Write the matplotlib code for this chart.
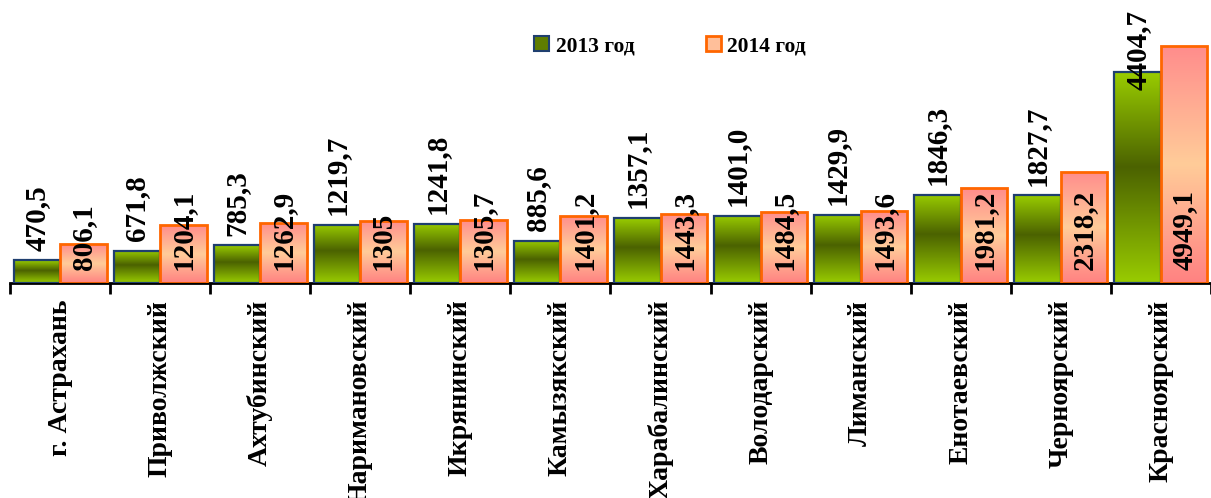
import numpy as np
import matplotlib.pyplot as plt
from matplotlib.colors import LinearSegmentedColormap
from matplotlib.patches import Patch

plt.rcParams['font.family'] = ['Liberation Serif', 'DejaVu Serif']
plt.rcParams['font.weight'] = 'bold'

districts = ["г. Астрахань", "Приволжский", "Ахтубинский", "Наримановский",
             "Икрянинский", "Камызякский", "Харабалинский", "Володарский",
             "Лиманский", "Енотаевский", "Черноярский", "Красноярский"]
values_2013 = [470.5, 671.8, 785.3, 1219.7, 1241.8, 885.6, 1357.1, 1401.0,
               1429.9, 1846.3, 1827.7, 4404.7]
values_2014 = [806.1, 1204.1, 1262.9, 1305, 1305.7, 1401.2, 1443.3, 1484.5,
               1493.6, 1981.2, 2318.2, 4949.1]
labels_2013 = ["470,5", "671,8", "785,3", "1219,7", "1241,8", "885,6", "1357,1",
               "1401,0", "1429,9", "1846,3", "1827,7", "4404,7"]
labels_2014 = ["806,1", "1204,1", "1262,9", "1305", "1305,7", "1401,2", "1443,3",
               "1484,5", "1493,6", "1981,2", "2318,2", "4949,1"]

green_cmap = LinearSegmentedColormap.from_list(
    "g", [(0, "#99cc00"), (0.55, "#4b6200"), (1, "#99cc00")])
orange_cmap = LinearSegmentedColormap.from_list(
    "o", [(0, "#ff8282"), (0.5, "#ffcc99"), (1, "#ff8c8c")])

fig = plt.figure(figsize=(12.11, 4.98), dpi=100)
ax = fig.add_axes([10 / 1211, 215 / 498, 1201 / 1211, 253 / 498])

x = np.arange(len(districts))
w = 0.465
grad = np.linspace(0, 1, 256).reshape(-1, 1)

bars13 = ax.bar(x - w / 2, values_2013, w, facecolor="none",
                edgecolor="#1f3f6f", linewidth=1.6, zorder=3)
bars14 = ax.bar(x + w / 2, values_2014, w, facecolor="none",
                edgecolor="#ff6600", linewidth=2.0, zorder=3)

# gradient fill per bar, like the office chart
for bars, cmap in [(bars13, green_cmap), (bars14, orange_cmap)]:
    for b in bars:
        x0, h, bw = b.get_x(), b.get_height(), b.get_width()
        im = ax.imshow(grad, extent=[x0, x0 + bw, h, 0], aspect="auto",
                       cmap=cmap, zorder=2, origin="upper")
        im.set_clip_path(b)

ax.set_xlim(-0.5, 11.5)
ax.set_ylim(0, 5283)

# value labels
anns13 = []
for xi, v, lab in zip(x, values_2013, labels_2013):
    a = ax.annotate(lab, (xi - w / 2, v), xytext=(0, 7), textcoords="offset points",
                    rotation=90, ha="center", va="bottom", fontsize=21,
                    fontweight="bold", zorder=5)
    anns13.append(a)
for xi, lab in zip(x, labels_2014):
    ax.annotate(lab, (xi + w / 2, 0), xytext=(0, 9.5), textcoords="offset points",
                rotation=90, ha="center", va="bottom", fontsize=21,
                fontweight="bold", zorder=5)

# keep top labels inside the picture
fig.canvas.draw()
r = fig.canvas.get_renderer()
limit = fig.bbox.height - 10
for a in anns13:
    bb = a.get_window_extent(r)
    if bb.y1 > limit:
        over = (bb.y1 - limit) * 72 / fig.dpi
        a.xyann = (0, 7 - over)

# axes styling
for s in ["top", "right", "left"]:
    ax.spines[s].set_visible(False)
ax.spines["bottom"].set_linewidth(2)
ax.set_yticks([])
ax.set_xticks(x)
ax.set_xticklabels(districts, rotation=90, va="top", ha="center",
                   fontsize=20, fontweight="bold")
ax.tick_params(axis="x", which="major", length=0, pad=12)
ax.set_xticks(np.arange(-0.5, 12, 1), minor=True)
ax.tick_params(axis="x", which="minor", length=8, width=2, direction="out")

handles = [Patch(facecolor="#5f7d00", edgecolor="#1f3f6f", linewidth=1.5, label="2013 год"),
           Patch(facecolor="#ffbf9a", edgecolor="#ff6600", linewidth=2, label="2014 год")]
fig.legend(handles=handles, loc="center", bbox_to_anchor=(670 / 1211, 1 - 46 / 498),
           ncol=2, frameon=False, handlelength=0.7, handleheight=0.7,
           handletextpad=0.3, columnspacing=3.3, prop={"weight": "bold", "size": 15.5})

fig.savefig("out.png", dpi=100)
